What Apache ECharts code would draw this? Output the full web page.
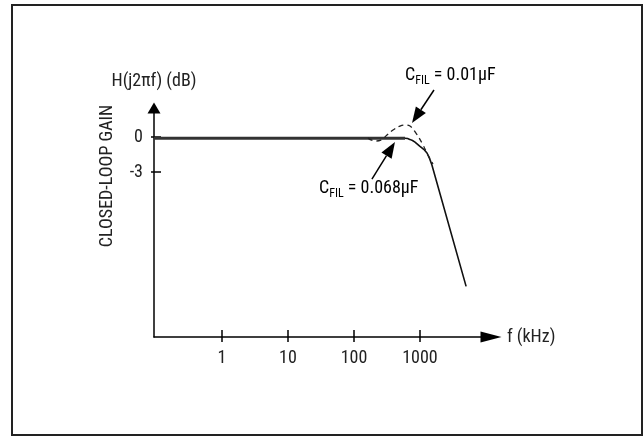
<!DOCTYPE html>
<html>
<head>
<meta charset="utf-8">
<script src="https://cdn.jsdelivr.net/npm/echarts@6/dist/echarts.min.js"></script>
<style>
  html, body { margin: 0; padding: 0; background: #fff; }
  #chart { width: 644px; height: 437px; }
</style>
</head>
<body>
<div id="chart"></div>
<script>
// frequency in kHz, gain in dB
const tickFreqs = [1, 10, 100, 1000];
const yTicks = [0, -3];

// shared passband of both curves
const freqPass = [0.093, 593];
const gainPass = [-0.1, -0.1];

// C_FIL = 0.068uF (solid)
const freqSolid = [0.093, 593, 650, 700, 770, 840, 1000, 1140, 1277, 1400, 1516, 5000];
const gainSolid = [-0.1, -0.1, -0.13, -0.2, -0.3, -0.43, -0.8, -1.05, -1.37, -1.85, -2.4, -12.8];

// C_FIL = 0.01uF (dashed, peaking)
const freqDash = [163, 208, 256, 316, 390, 498, 593, 705, 869, 1072, 1321, 1574];
const gainDash = [-0.09, -0.34, -0.26, 0.17, 0.6, 0.94, 1.03, 0.94, 0.34, -0.51, -1.54, -2.31];

const FONT = "'Liberation Sans Narrow', 'Roboto Condensed', 'Arial Narrow', sans-serif";
const TXT = '#222';

const pts = (f, g) => f.map((v, i) => [Math.log10(v), g[i]]);

let myChart = echarts.init(document.getElementById('chart'));

const xBase = {
    type: 'value',
    min: -1.03,
    max: 4.076,
    splitLine: { show: false }
};
const yBase = {
    type: 'value',
    min: -17.14,
    max: 2.49,
    splitLine: { show: false }
};

myChart.setOption({
    animation: false,
    backgroundColor: '#fff',
    grid: { left: 154, top: 108, right: 153, bottom: 100 },
    xAxis: [
        Object.assign({}, xBase, {
            name: 'f (kHz)',
            nameLocation: 'end',
            nameGap: 16,
            nameTextStyle: { fontFamily: FONT, fontSize: 18, color: TXT },
            axisLine: {
                onZero: false,
                lineStyle: { color: '#000', width: 1.5 },
                symbol: ['none', 'triangle'],
                symbolSize: [11, 21]
            },
            axisTick: {
                inside: true, length: 7,
                customValues: tickFreqs.map(Math.log10),
                lineStyle: { color: '#000', width: 1.5 }
            },
            axisLabel: {
                customValues: tickFreqs.map(Math.log10),
                margin: 12,
                fontFamily: FONT, fontSize: 18, color: TXT,
                formatter: v => String(Math.round(Math.pow(10, v)))
            }
        }),
        Object.assign({}, xBase, {
            position: 'bottom',
            axisLine: { show: false, onZero: false },
            axisTick: {
                length: 5,
                customValues: tickFreqs.map(Math.log10),
                lineStyle: { color: '#000', width: 1.5 }
            },
            axisLabel: { show: false }
        })
    ],
    yAxis: [
        Object.assign({}, yBase, {
            name: 'H(j2πf) (dB)',
            nameLocation: 'end',
            nameGap: 18,
            nameTextStyle: { fontFamily: FONT, fontSize: 18, color: TXT },
            axisLine: {
                onZero: false,
                lineStyle: { color: '#000', width: 1.5 },
                symbol: ['none', 'triangle'],
                symbolSize: [13, 11]
            },
            axisTick: {
                inside: true, length: 7,
                customValues: yTicks,
                lineStyle: { color: '#000', width: 1.5 }
            },
            axisLabel: {
                customValues: yTicks,
                margin: 11,
                fontFamily: FONT, fontSize: 18, color: TXT
            }
        }),
        Object.assign({}, yBase, {
            position: 'left',
            axisLine: { show: false, onZero: false },
            axisTick: {
                length: 3,
                customValues: yTicks,
                lineStyle: { color: '#000', width: 1.5 }
            },
            axisLabel: { show: false }
        })
    ],
    series: [
        {
            name: 'C_FIL = 0.068uF',
            type: 'line',
            data: pts(freqSolid, gainSolid),
            smooth: false,
            showSymbol: false,
            lineStyle: { color: '#111', width: 1.6 }
        },
        {
            name: 'passband',
            type: 'line',
            data: pts(freqPass, gainPass),
            showSymbol: false,
            lineStyle: { color: '#333', width: 3 }
        },
        {
            name: 'C_FIL = 0.01uF',
            type: 'line',
            data: pts(freqDash, gainDash),
            smooth: 0.4,
            showSymbol: false,
            lineStyle: { color: '#222', width: 1.3, type: [5, 4] }
        }
    ]
});

// callouts, anchored in data units (kHz, dB)
const notes = [
    { value: '0.01µF', text: [593, 5.3], from: [1630, 4.03], to: [757, 1.2] },
    { value: '0.068µF', text: [29.5, -4.4], from: [187, -3.6], to: [418, -0.43] }
];

const toPx = (f, g) => myChart.convertToPixel({ gridIndex: 0 }, [Math.log10(f), g]);

let graphics = [{
    type: 'rect',
    shape: { x: 12, y: 5, width: 630, height: 430 },
    style: { fill: 'none', stroke: '#222', lineWidth: 2 }
}, {
    type: 'text',
    x: 107, y: 176,
    rotation: Math.PI / 2,
    style: {
        text: 'CLOSED-LOOP GAIN',
        font: '18px ' + FONT,
        fill: TXT,
        align: 'center',
        verticalAlign: 'middle'
    }
}];

notes.forEach(n => {
    const t = toPx(n.text[0], n.text[1]);
    const a = toPx(n.from[0], n.from[1]);
    const b = toPx(n.to[0], n.to[1]);
    const dx = b[0] - a[0], dy = b[1] - a[1];
    const len = Math.sqrt(dx * dx + dy * dy);
    const ux = dx / len, uy = dy / len;
    const L = 16, W = 6;
    const bx = b[0] - ux * L, by = b[1] - uy * L;
    graphics.push({
        type: 'line',
        shape: { x1: a[0], y1: a[1], x2: bx, y2: by },
        style: { stroke: '#000', lineWidth: 1.5 }
    });
    graphics.push({
        type: 'polygon',
        shape: { points: [b, [bx - uy * W, by + ux * W], [bx + uy * W, by - ux * W]] },
        style: { fill: '#000' }
    });
    graphics.push({
        type: 'text',
        x: t[0], y: t[1],
        style: {
            text: '{c|C}{s|FIL}{c| = ' + n.value + '}',
            align: 'left',
            verticalAlign: 'middle',
            rich: {
                c: { fontFamily: FONT, fontSize: 18, color: TXT, lineHeight: 24, verticalAlign: 'middle' },
                s: { fontFamily: FONT, fontSize: 12, color: TXT, lineHeight: 12, verticalAlign: 'bottom' }
            }
        }
    });
});

myChart.setOption({ graphic: graphics });
</script>
</body>
</html>
